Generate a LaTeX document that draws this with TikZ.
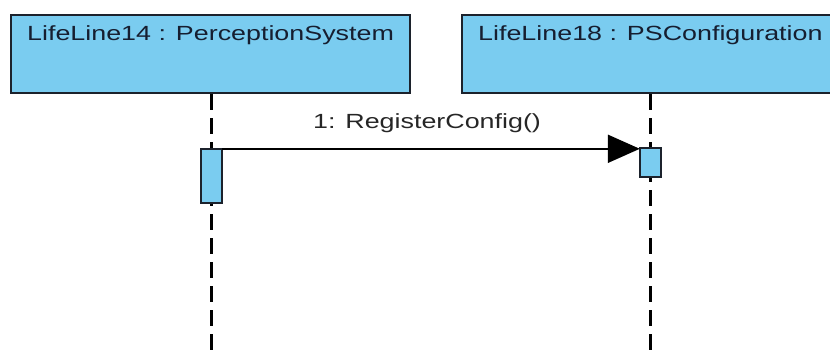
\documentclass[tikz,border=0pt]{standalone}
\usepackage{fontspec}
\setmainfont{Liberation Sans}
\usetikzlibrary{arrows.meta}
\definecolor{lifefill}{RGB}{122,204,240}
\definecolor{edgecol}{RGB}{28,34,44}
\definecolor{ink}{RGB}{22,30,48}
% text in this diagram is set a little wider than the font's natural width
\newcommand{\widetext}[1]{\scalebox{1.31}[1]{#1}}
\begin{document}
\begin{tikzpicture}[x=1pt,y=-1pt,
  headbox/.style={draw=edgecol, fill=lifefill, line width=2.2pt, inner sep=0pt,
    minimum height=78pt},
  headtext/.style={anchor=base west, inner sep=0pt, text=ink,
    font=\fontsize{20.5}{24}\selectfont},
  actbar/.style={draw=edgecol, fill=lifefill, line width=2pt, inner sep=0pt,
    minimum width=21pt},
  lifeline/.style={draw=black, line width=2.4pt, dash pattern=on 16pt off 8pt},
  msg/.style={draw=black, line width=2pt,
    -{Triangle[length=32pt, width=28pt, fill=black]}},
  msgtext/.style={anchor=base, inner sep=0pt, text=black!85,
    font=\fontsize{20.5}{24}\selectfont}]
  \useasboundingbox (0,0) rectangle (830,350);
  \clip (0,0) rectangle (830,350);

  % lifeline heads
  \node[headbox, minimum width=399pt] (head1) at (210.5,54) {};
  \node[headbox, minimum width=418pt] (head2) at (671,54) {};
  \node[headtext] (title1) at (27,40.7) {\widetext{LifeLine14 : PerceptionSystem}};
  \node[headtext] (title2) at (478,40.7) {\widetext{LifeLine18 : PSConfiguration}};

  % activation bars (positions only, drawn after the lifelines)
  \path (211.5,176) node[minimum width=21pt, minimum height=54pt, inner sep=0pt] (act1) {};
  \path (650.5,162.5) node[minimum width=21pt, minimum height=29pt, inner sep=0pt] (act2) {};
  \coordinate (end1) at (act1.center |- 0,350);
  \coordinate (end2) at (act2.center |- 0,350);

  % dashed lifelines
  \draw[lifeline] (act1.center |- head1.south) -- (end1);
  \draw[lifeline] (act2.center |- head2.south) -- (end2);

  % activation bars
  \node[actbar, minimum height=54pt] at (act1) {};
  \node[actbar, minimum height=29pt] at (act2) {};

  % synchronous message
  \draw[msg] (act1.north east) -- (act2.west |- act1.north east)
    node[msgtext, midway, xshift=-4pt, yshift=20pt] (msg1) {\widetext{1: RegisterConfig()}};
\end{tikzpicture}
\end{document}
